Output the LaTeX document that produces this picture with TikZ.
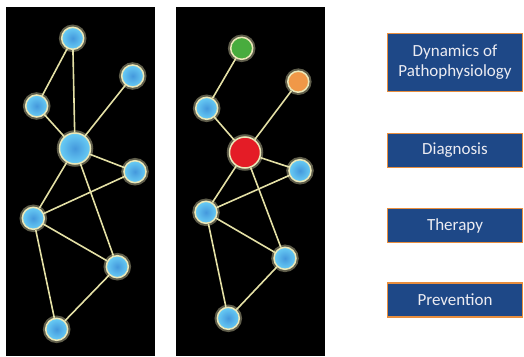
\documentclass[tikz,border=0pt]{standalone}
\usepackage{fontspec}
\setmainfont{Carlito}
\definecolor{edgecol}{RGB}{228,224,165}
\definecolor{glowcol}{RGB}{235,232,185}
\definecolor{bluein}{RGB}{68,152,220}
\definecolor{blueout}{RGB}{105,205,245}
\definecolor{nodegreen}{RGB}{72,172,62}
\definecolor{nodeorange}{RGB}{240,152,72}
\definecolor{nodered}{RGB}{228,28,38}
\definecolor{boxblue}{RGB}{30,72,135}
\definecolor{boxorange}{RGB}{232,142,62}
\definecolor{boxtext}{RGB}{236,236,242}
\pgfdeclarelayer{back}
\pgfdeclarelayer{bg}
\pgfsetlayers{back,bg,main}
\tikzset{
  netnode/.style={circle, inner sep=0pt, draw=glowcol, line width=1.5pt,
    preaction={draw=glowcol, line width=5.5pt, opacity=0.4}},
  bnode/.style={netnode, shading=radial, inner color=bluein, outer color=blueout, minimum size=22pt},
  bignode/.style={bnode, minimum size=31pt},
  gnode/.style={netnode, fill=nodegreen, minimum size=22pt},
  onode/.style={netnode, fill=nodeorange, minimum size=21pt},
  rnode/.style={netnode, fill=nodered, minimum size=31pt},
  link/.style={draw=edgecol, line width=1.6pt},
  labelbox/.style={rectangle, fill=boxblue, draw=boxorange, line width=1.4pt,
    minimum width=135pt, text=boxtext, font=\fontsize{17}{20}\selectfont, align=center, inner sep=0pt}
}
\begin{document}
\begin{tikzpicture}[x=1pt,y=-1pt]
\useasboundingbox (0,0) rectangle (524,356);
\begin{pgfonlayer}{back}
\fill[white] (0,0) rectangle (524,356);
\fill[black] (6,7) rectangle (155,356);
\fill[black] (176,7) rectangle (325,356);
\end{pgfonlayer}
% panel 1 nodes
\node[bnode] (a1) at (72.7,38.3) {};
\node[bnode] (b1) at (132.7,76) {};
\node[bnode] (c1) at (36.7,106) {};
\node[bignode] (d1) at (75,148.5) {};
\node[bnode] (e1) at (135,171.7) {};
\node[bnode] (f1) at (33.3,218.3) {};
\node[bnode] (g1) at (117.3,266.7) {};
\node[bnode] (h1) at (56.7,329.3) {};
% panel 2 nodes
\node[gnode] (a2) at (241.7,48.3) {};
\node[onode] (b2) at (298.3,81.7) {};
\node[bnode] (c2) at (206.7,108.3) {};
\node[rnode] (d2) at (245,152.5) {};
\node[bnode] (e2) at (300,170.7) {};
\node[bnode] (f2) at (206,212.3) {};
\node[bnode] (g2) at (285,258.3) {};
\node[bnode] (h2) at (228.3,318.3) {};
\begin{pgfonlayer}{bg}
\draw[link] (a1) -- (c1);
\draw[link] (a1) -- (d1);
\draw[link] (c1) -- (d1);
\draw[link] (b1) -- (d1);
\draw[link] (d1) -- (e1);
\draw[link] (d1) -- (f1);
\draw[link] (d1) -- (g1);
\draw[link] (e1) -- (f1);
\draw[link] (f1) -- (g1);
\draw[link] (f1) -- (h1);
\draw[link] (g1) -- (h1);
\draw[link] (a2) -- (c2);
\draw[link] (c2) -- (d2);
\draw[link] (b2) -- (d2);
\draw[link] (d2) -- (e2);
\draw[link] (d2) -- (f2);
\draw[link] (d2) -- (g2);
\draw[link] (e2) -- (f2);
\draw[link] (f2) -- (g2);
\draw[link] (f2) -- (h2);
\draw[link] (g2) -- (h2);
\end{pgfonlayer}
% label boxes
\node[labelbox, minimum height=58pt] (dyn) at (455,62.5) {Dynamics of\\Pathophysiology};
\node[labelbox, minimum height=34pt] (diag) at (455,150.5) {Diagnosis};
\node[labelbox, minimum height=34pt] (ther) at (455,225.5) {Therapy};
\node[labelbox, minimum height=34pt] (prev) at (455,300) {Prevention};
\end{tikzpicture}
\end{document}
